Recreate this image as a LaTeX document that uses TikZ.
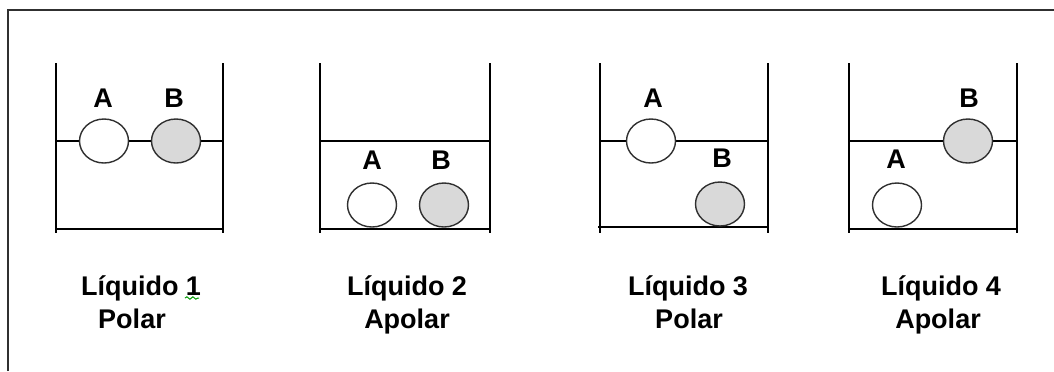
\documentclass[tikz,border=0pt]{standalone}
\usepackage{fontspec}
\setmainfont{Liberation Sans}
\usetikzlibrary{shapes.geometric,decorations.pathmorphing}
\definecolor{ballgray}{HTML}{D9D9D9}
\definecolor{linegray}{HTML}{303030}
\begin{document}
\begin{tikzpicture}[x=0.5pt,y=-0.5pt,
  wall/.style={draw=black,line width=0.9pt},
  level/.style={draw=black,line width=0.8pt},
  ball/.style={ellipse,draw=linegray,line width=0.7pt,minimum width=24.5pt,minimum height=22pt,inner sep=0pt},
  ballA/.style={ball,fill=white},
  ballB/.style={ball,fill=ballgray},
  lbl/.style={font=\bfseries\fontsize{13.5}{15}\selectfont,anchor=base,inner sep=0pt},
  caption/.style={font=\bfseries\fontsize{13.5}{15}\selectfont,anchor=base,inner sep=0pt}]
\useasboundingbox (0,0) rectangle (1054,371);
% outer frame (only the top and left edges fall inside the page)
\draw[draw=linegray,line width=1.2pt] (8,371) -- (8,10) -- (1054,10);

% beaker 1
\draw[wall] (56,63) -- (56,233) (223,63) -- (223,233);
\draw[wall] (56,229) -- (223,229);
\draw[level] (56,141) -- (223,141);
\node[ballA] (a1) at (104,141) {};
\node[ballB] (b1) at (176,141) {};
\node[lbl] (la1) at (103,107) {A};
\node[lbl] (lb1) at (174,107) {B};
\node[caption] (t1) at (141,295) {Líquido 1};
\node[caption] (p1) at (132,328) {Polar};
\draw[draw=green!60!black,line width=0.5pt,decorate,decoration={snake,amplitude=0.6pt,segment length=3pt}] (185,298) -- (199,298);

% beaker 2
\draw[wall] (320,63) -- (320,233) (490,63) -- (490,233);
\draw[wall] (320,229) -- (490,229);
\draw[level] (320,141) -- (490,141);
\node[ballA] (a2) at (372,205) {};
\node[ballB] (b2) at (444,205) {};
\node[lbl] (la2) at (372,169) {A};
\node[lbl] (lb2) at (441,169) {B};
\node[caption] (t2) at (407,295) {Líquido 2};
\node[caption] (p2) at (407,328) {Apolar};

% beaker 3
\draw[wall] (600,63) -- (600,233) (768,63) -- (768,233);
\draw[wall] (598,227) -- (768,227);
\draw[level] (600,141) -- (768,141);
\node[ballA] (a3) at (651,141) {};
\node[ballB] (b3) at (720,204) {};
\node[lbl] (la3) at (653,107) {A};
\node[lbl] (lb3) at (722,167) {B};
\node[caption] (t3) at (688,295) {Líquido 3};
\node[caption] (p3) at (689,328) {Polar};

% beaker 4
\draw[wall] (849,63) -- (849,233) (1017,63) -- (1017,233);
\draw[wall] (849,229) -- (1017,229);
\draw[level] (849,141) -- (1017,141);
\node[ballB] (b4) at (968,141) {};
\node[ballA] (a4) at (897,205) {};
\node[lbl] (lb4) at (969,107) {B};
\node[lbl] (la4) at (896,168) {A};
\node[caption] (t4) at (941,295) {Líquido 4};
\node[caption] (p4) at (938,328) {Apolar};
\end{tikzpicture}
\end{document}
